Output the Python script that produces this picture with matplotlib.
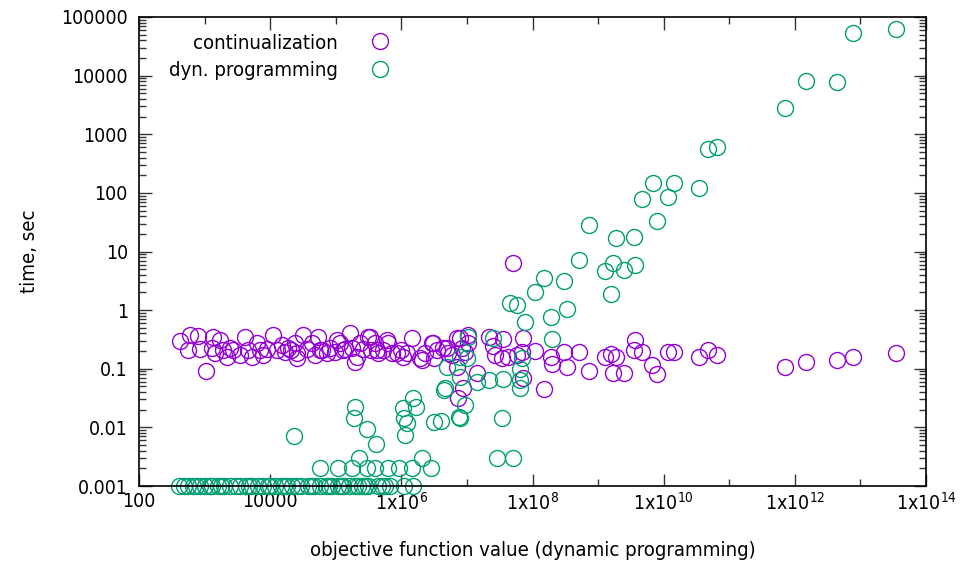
import matplotlib
matplotlib.use("Agg")
import matplotlib.pyplot as plt
import matplotlib.ticker as mticker
import numpy as np

plt.rcParams['font.family'] = ['DejaVu Sans']
plt.rcParams['font.stretch'] = 'condensed'
plt.rcParams['mathtext.default'] = 'regular'

# ---- data ----
cont_x = [4.2e2, 6.0e2, 5.6e2, 7.9e2, 8.5e2, 1.05e3, 1.3e3, 1.35e3, 1.45e3, 1.7e3,
          1.9e3, 2.2e3, 2.45e3, 2.7e3, 3.5e3, 4.2e3, 4.6e3, 5.2e3, 6.3e3, 6.9e3,
          7.8e3, 8.9e3, 1.1e4, 1.26e4, 1.5e4, 1.7e4, 1.85e4, 2.1e4, 2.4e4, 2.6e4,
          2.6e4, 3.2e4, 3.6e4, 4.4e4, 4.8e4, 5.4e4, 6.2e4, 7.4e4, 8.1e4, 9.8e4,
          1.15e5, 1.4e5, 1.65e5, 1.8e5, 2.1e5, 2.35e5, 2.6e5, 3.3e5, 4.0e5, 4.3e5,
          5.2e5, 6.3e5, 8.5e5, 5.8e4, 1.05e5, 1.3e5, 1.95e5, 3.1e5, 3.5e5, 4.4e5,
          6.0e5, 7.2e5, 1.0e6, 1.05e6, 1.2e6, 1.45e6, 1.9e6, 2.3e6, 3.0e6, 3.5e6,
          4.3e6, 5.1e6, 7.1e6, 2.1e6, 2.9e6, 3.2e6, 7.8e6, 1.05e7, 8.3e6, 7.1e6,
          7.3e6, 8.7e6, 4.9e6, 6.0e6, 9.3e6, 1.05e7, 1.4e7, 2.2e7, 2.5e7, 2.7e7,
          3.4e7, 4.2e7, 5.8e7, 3.6e7, 7.1e7, 6.9e7, 7.1e7, 5.0e7, 1.1e8, 1.5e8,
          2.0e8, 1.9e8, 3.0e8, 3.3e8, 5.1e8, 7.2e8, 1.26e9, 1.6e9, 1.9e9, 1.7e9,
          2.5e9, 3.5e9, 3.6e9, 4.6e9, 6.6e9, 8.0e9, 1.15e10, 1.45e10, 3.5e10, 4.8e10,
          6.5e10, 7.1e11, 1.5e12, 4.4e12, 7.6e12, 3.5e13]
cont_t = [0.30, 0.37, 0.21, 0.36, 0.22, 0.091, 0.23, 0.35, 0.185, 0.31,
          0.21, 0.158, 0.23, 0.21, 0.17, 0.35, 0.21, 0.158, 0.275, 0.21,
          0.17, 0.22, 0.37, 0.21, 0.25, 0.19, 0.23, 0.21, 0.275, 0.185,
          0.15, 0.37, 0.22, 0.275, 0.17, 0.35, 0.21, 0.185, 0.23, 0.19,
          0.275, 0.22, 0.41, 0.23, 0.158, 0.28, 0.22, 0.35, 0.275, 0.21,
          0.21, 0.275, 0.185, 0.21, 0.31, 0.21, 0.13, 0.35, 0.21, 0.185,
          0.31, 0.185, 0.21, 0.158, 0.185, 0.33, 0.15, 0.185, 0.28, 0.21,
          0.23, 0.185, 0.33, 0.14, 0.275, 0.15, 0.33, 0.37, 0.23, 0.107,
          0.032, 0.047, 0.23, 0.17, 0.19, 0.275, 0.083, 0.35, 0.24, 0.17,
          0.15, 0.158, 0.17, 0.32, 0.33, 0.19, 0.069, 6.3, 0.20, 0.045,
          0.12, 0.16, 0.19, 0.107, 0.19, 0.091, 0.16, 0.18, 0.16, 0.083,
          0.083, 0.21, 0.31, 0.19, 0.115, 0.081, 0.19, 0.19, 0.158, 0.21,
          0.17, 0.107, 0.13, 0.14, 0.158, 0.185]

dp_x = [4.07e2, 5.6e2, 6.6e2, 8.5e2, 1.0e3, 1.3e3, 1.6e3, 2.0e3, 2.45e3, 3.0e3,
        3.5e3, 4.3e3, 5.2e3, 6.5e3, 7.8e3, 9.3e3, 1.2e4, 1.45e4, 1.8e4, 2.15e4,
        2.55e4, 3.0e4, 3.8e4, 4.7e4, 5.8e4, 7.1e4, 8.7e4, 1.07e5, 1.3e5, 1.6e5,
        2.0e5, 2.5e5, 3.1e5, 4.4e5, 5.6e5, 6.7e5, 1.1e6, 1.5e6,
        4.9e2, 7.4e2, 1.2e3, 1.8e3, 4.8e3, 1.0e4, 1.6e4, 4.2e4, 7.9e4, 1.2e5,
        2.2e5, 2.8e5, 5.0e5,
        5.8e4, 1.07e5, 1.8e5, 3.0e5, 4.0e5, 6.3e5, 9.1e5, 1.45e6, 2.8e6,
        2.3e5, 2.1e6, 2.9e7, 5.0e7, 4.1e5, 2.3e4, 1.15e6, 3.0e5, 1.95e5, 1.9e5,
        1.5e6, 1.7e6, 1.05e6, 1.1e6, 1.2e6, 3.2e6, 4.0e6, 7.6e6, 7.8e6, 4.4e6,
        9.3e6, 4.6e6, 4.9e6, 7.8e6, 7.8e6, 1.05e7, 1.0e7, 1.4e7, 2.2e7, 3.6e7,
        2.5e7, 6.5e7, 6.5e7, 6.5e7, 6.9e7, 3.4e7, 4.6e7, 5.8e7, 7.6e7, 2.0e8,
        1.9e8, 3.3e8, 1.1e8, 1.5e8, 3.0e8, 5.1e8, 7.2e8, 1.26e9, 1.7e9, 1.6e9,
        1.9e9, 2.5e9, 3.5e9, 3.6e9, 4.6e9, 6.9e9, 8.0e9, 1.15e10, 1.45e10, 3.5e10,
        4.7e10, 6.5e10, 7.1e11, 1.5e12, 4.4e12, 7.6e12, 3.5e13]
dp_t = [0.001] * 51 + \
       [0.002, 0.002, 0.002, 0.002, 0.002, 0.002, 0.002, 0.002, 0.002,
        0.003, 0.003, 0.003, 0.003, 0.0052, 0.0071, 0.0074, 0.0093, 0.022, 0.0145,
        0.032, 0.022, 0.021, 0.0145, 0.012, 0.0125, 0.013, 0.015, 0.0145, 0.043,
        0.024, 0.047, 0.107, 0.072, 0.16, 0.35, 0.15, 0.059, 0.065, 0.068,
        0.33, 0.047, 0.065, 0.10, 0.15, 0.0145, 1.3, 1.2, 0.63, 0.32,
        0.76, 1.05, 2.0, 3.6, 3.2, 7.1, 28, 4.7, 6.3, 1.9,
        17, 4.8, 18, 5.9, 78, 150, 33, 85, 150, 120,
        560, 600, 2800, 8200, 7800, 53000, 63000]

series_labels = ["continualization", "dyn. programming"]
x_tick_values = [1e2, 1e4, 1e6, 1e8, 1e10, 1e12, 1e14]
x_tick_labels = ["100", "10000", r"1x10$^{6}$", r"1x10$^{8}$", r"1x10$^{10}$",
                 r"1x10$^{12}$", r"1x10$^{14}$"]
y_tick_values = [1e-3, 1e-2, 1e-1, 1, 10, 100, 1000, 10000, 100000]
y_tick_labels = ["0.001", "0.01", "0.1", "1", "10", "100", "1000", "10000", "100000"]

# ---- plot ----
fig = plt.figure(figsize=(9.66, 5.66), dpi=100)
ax = fig.add_axes([139/966, 1 - 486/566, (926-139)/966, (486-17)/566])

ms = 11.5
ax.plot(cont_x, cont_t, linestyle='none', marker='o', markersize=ms,
        markerfacecolor='none', markeredgecolor='#9400D3', markeredgewidth=1.0,
        label=series_labels[0], clip_on=False)
ax.plot(dp_x, dp_t, linestyle='none', marker='o', markersize=ms,
        markerfacecolor='none', markeredgecolor='#009E73', markeredgewidth=1.0,
        label=series_labels[1], clip_on=False)

ax.set_xscale('log')
ax.set_yscale('log')
ax.set_xlim(1e2, 1e14)
ax.set_ylim(1e-3, 1e5)

ax.set_xticks(x_tick_values)
ax.set_xticklabels(x_tick_labels)
ax.xaxis.set_minor_locator(mticker.FixedLocator([10.0**k for k in range(3, 14, 2)]))
ax.xaxis.set_minor_formatter(mticker.NullFormatter())
ax.set_yticks(y_tick_values)
ax.set_yticklabels(y_tick_labels)
ax.yaxis.set_minor_locator(mticker.LogLocator(base=10, subs=np.arange(2, 10)))
ax.yaxis.set_minor_formatter(mticker.NullFormatter())

fs = 14
lfs = 14.6
ax.tick_params(which='both', direction='in', top=True, right=True, labelsize=fs,
               width=1.0, color='#333333')
ax.tick_params(which='major', length=9, pad=8)
ax.tick_params(axis='x', which='major', pad=4)
ax.tick_params(which='minor', length=5)
for s in ax.spines.values():
    s.set_linewidth(1.2)

ax.set_xlabel("objective function value (dynamic programming)", fontsize=lfs, labelpad=20)
ax.set_ylabel("time, sec", fontsize=lfs, labelpad=16)

leg = ax.legend(loc='upper left', bbox_to_anchor=(0.02, 0.995), markerfirst=False,
                frameon=False, fontsize=lfs, handlelength=1.5, handletextpad=1.35,
                labelspacing=0.42, borderaxespad=0.3)

fig.savefig("out.png", dpi=100)
